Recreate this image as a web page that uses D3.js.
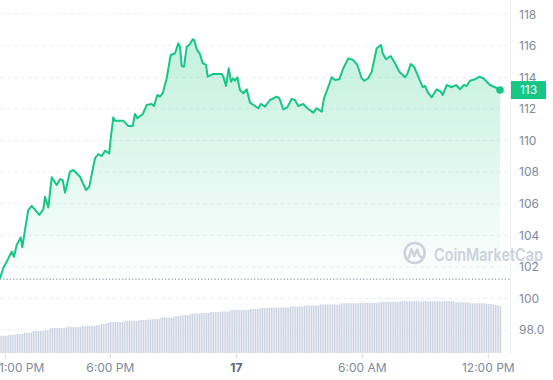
<!DOCTYPE html>
<html><head><meta charset="utf-8">
<script src="https://cdn.jsdelivr.net/npm/d3@7"></script>
<style>html,body{margin:0;padding:0;background:#fff;} svg{display:block;font-family:Inter,"Noto Sans",sans-serif;}</style>
</head><body><svg id="chart" width="553" height="380"></svg>
<script>
// ---- data ----
const priceHours = [12.748,12.905,13.067,13.305,13.414,13.543,13.733,13.810,13.938,14.095,14.257,14.619,14.810,14.890,15.048,15.210,15.448,15.605,15.733,15.843,16.081,16.238,16.557,16.843,17.000,17.271,17.429,17.590,17.748,17.952,18.019,18.143,18.224,18.619,18.857,19.067,19.176,19.286,19.543,19.733,19.971,20.081,20.238,20.367,20.495,20.686,20.876,21.081,21.238,21.319,21.400,21.510,21.638,21.795,21.924,22.000,22.114,22.271,22.400,22.557,22.638,22.905,23.305,23.381,23.510,23.638,23.748,23.857,23.938,24.048,24.176,24.333,24.495,24.652,24.890,25.048,25.162,25.367,25.605,25.924,26.048,26.238,26.429,26.638,26.795,26.952,27.190,27.381,27.667,27.829,28.067,28.176,28.381,28.543,28.700,28.905,29.095,29.333,29.571,29.762,29.971,30.095,30.286,30.448,30.686,30.890,30.971,31.129,31.352,31.557,31.762,32.033,32.143,32.305,32.462,32.667,32.876,32.986,33.143,33.305,33.543,33.733,33.829,34.019,34.257,34.462,34.652,34.843,34.971,35.129,35.367,35.571,35.762,36.081,36.319,36.557];
const prices = [101.28,101.93,102.33,102.96,102.64,103.38,103.87,103.24,104.34,105.60,105.86,105.29,105.65,106.44,105.77,107.67,107.19,107.55,107.50,106.70,108.03,108.14,107.71,106.87,107.08,108.88,109.15,109.02,109.36,109.19,110.14,111.47,111.26,111.26,110.92,110.92,111.68,111.41,111.68,112.25,112.32,112.19,112.89,112.78,113.00,113.95,115.42,115.53,116.16,115.95,114.72,114.68,115.95,116.12,116.42,116.37,115.78,115.48,114.90,114.79,114.05,114.22,114.22,114.05,113.46,114.58,113.73,113.95,113.79,114.01,113.20,113.00,113.25,112.40,112.19,112.05,112.32,112.15,112.57,112.78,112.68,111.98,112.11,112.63,112.57,112.19,112.32,112.05,111.77,112.05,111.83,112.68,113.41,114.01,113.84,113.88,114.58,115.21,115.10,114.79,113.95,113.79,113.95,114.36,115.85,116.06,115.53,115.15,115.36,114.90,114.36,114.01,114.22,114.85,114.68,114.05,113.38,113.46,113.00,112.74,113.25,113.10,112.89,113.52,113.38,113.52,113.25,113.52,113.46,113.79,113.88,114.05,113.95,113.52,113.38,113.20];
const openPrice = 101.22;
const volumes = [
17.3,17.3,17.3,17.3,17.3, 18,18,18,18, 19,19,19,19,19, 20.3,20.3,20.3,20.3,20.3,
22,22,22,22,22,22,22, 23,23,23, 25,25,25,25,25,25,25,25,25, 26,26,26,26,26,26,26,26,26,
27,27,27,27,27,27,27,27, 28,28,28,29,29,29,30,30, 31,31,31,31,31,31,31,31,31,
32.3,32.3,32.3,32.3,32.3,32.3,32.3,32.3, 33,33,33,33,33.5,33.5,33.5,33.5,34,34,34,34,
35.5,35.5,35.5,35.5,35.5,35.5,35.5,35.5, 37,37,37,37.5,37.5,37.5,38,38,38,
39.5,39.5,39.5,39.5,39.5,39.5,40,40,40,40,40, 41,41,41,41,41,41,41.5,41.5,41.5,41.5,41.5,41.5,
43,43,43,43,43,43,43,43,43,43,43, 44,44,44,44,44,44,45,45,45,45,45,45,
45.5,45.5,45.5,45.5,45.5,45.5,45.5,45.5,45.5,45.5,45.5,
46.5,46.5,46.5,46.5,46.5,46.5,46.5,46.5,47.5,47.5,47.5,47.5,47.5,47.5,47.5,47.5,47.5,
48.5,48.5,48.5,48.5,48.5,48.5,48.5,48.5,48.5,48.5,48.5,48.5,
49.7,49.7,49.7,49.7,49.7,49.7,49.7,49.7,49.7,49.7,49.7,
50.3,50.3,50.3,50.3,50.3,50.3,50.3,50.3,50.3,50.3,50.3,51,51,51,51,51,51,51,51,51,51,51,51,
51.7,51.7,51.7,51.7,51.7,51.7,51.7,51.7,51.7,51.7,51.7,51.7,51.7,51.7,51.7,51.7,51.7,51.7,51.7,51.7,51.7,51.7,51.7,51.7,51.7,51.7,51.7,51.7,51.7,51.7,51.7,
50.7,50.7,50.7,50.7,50.7,50.7,50.7,50.7,50.7, 49.7,49.7,49.7,49.7,49.7,49.7,49.7,49.7,49.7,
49,49,49,49, 48,48,48, 47,47];
const volumeStartHour = 12.75;
const volumeStepMinutes = 5;
const yTickValues = [98,100,102,104,106,108,110,112,114,116,118];
const yTickLabels = ["98.0","100","102","104","106","108","110","112","114","116","118"];
const xTickHours = [13,18,24,30,36];
const xTickLabels = ["1:00 PM","6:00 PM","17","6:00 AM","12:00 PM"];
const lastPriceLabel = "113";
const watermarkText = "CoinMarketCap";

// ---- drawing ----
const svg = d3.select("#chart");
const plotRight = 511;
const green = "#16c784";
const grey = "#808a9d";

const x = d3.scaleLinear().domain([12.7476, 37.081]).range([0, plotRight]);
const y = d3.scaleLinear().domain([98, 118]).range([330, 14.3]);
const yVol = d3.scaleLinear().domain([0, 60]).range([353, 293]);

const pts = priceHours.map((h, i) => ({h, v: prices[i]}));

const defs = svg.append("defs");
const grad = defs.append("linearGradient").attr("id", "fillGrad")
  .attr("gradientUnits", "userSpaceOnUse").attr("x1", 0).attr("x2", 0)
  .attr("y1", 30).attr("y2", 288);
grad.append("stop").attr("offset", "0%").attr("stop-color", green).attr("stop-opacity", 0.27);
grad.append("stop").attr("offset", "100%").attr("stop-color", green).attr("stop-opacity", 0);

// grid
svg.append("g").selectAll("line").data(yTickValues).join("line")
  .attr("x1", 0).attr("x2", plotRight)
  .attr("y1", d => y(d)).attr("y2", d => y(d))
  .attr("stroke", "#eceff3").attr("stroke-width", 1).attr("stroke-dasharray", "4,3");

// right border line
svg.append("line").attr("x1", plotRight - 0.3).attr("x2", plotRight - 0.3)
  .attr("y1", 0).attr("y2", 354).attr("stroke", "#eceff3").attr("stroke-width", 1);

// volume bars
const barStep = volumeStepMinutes / 60;
svg.append("g").selectAll("rect").data(volumes).join("rect")
  .attr("x", (d, i) => x(volumeStartHour + i * barStep) - 0.6)
  .attr("width", 1.2)
  .attr("y", d => yVol(d))
  .attr("height", d => yVol(0) - yVol(d))
  .attr("fill", "#cbd2e2");

// area
const area = d3.area().x(d => x(d.h)).y0(y(openPrice)).y1(d => y(d.v));
svg.append("path").datum(pts).attr("d", area).attr("fill", "url(#fillGrad)");

// watermark
const wm = svg.append("g").attr("opacity", 1);
const lg = wm.append("g").attr("transform", "translate(414.7,253)");
lg.append("circle").attr("r", 10).attr("fill", "none").attr("stroke", "#ccd1db").attr("stroke-width", 2.6);
lg.append("path").attr("d", "M-6,4.5 L-3.2,-3.5 L-0.5,3 L2.5,-3.5 L4.5,2.5 Q5.8,5 8.5,3.5")
  .attr("fill", "none").attr("stroke", "#ccd1db").attr("stroke-width", 2.4).attr("stroke-linejoin", "round").attr("stroke-linecap", "round");
wm.append("text").attr("x", 434).attr("y", 260.7).text(watermarkText)
  .attr("font-size", 17).attr("font-weight", 600).attr("fill", "#ccd1db")
  .attr("textLength", 109).attr("lengthAdjust", "spacingAndGlyphs");

// open price dotted line
svg.append("line").attr("x1", 0).attr("x2", plotRight)
  .attr("y1", y(openPrice)).attr("y2", y(openPrice))
  .attr("stroke", "#8f97a6").attr("stroke-width", 1.1).attr("stroke-dasharray", "1.2,2.1");

// price line
const line = d3.line().x(d => x(d.h)).y(d => y(d.v));
svg.append("path").datum(pts).attr("d", line)
  .attr("fill", "none").attr("stroke", green).attr("stroke-width", 2)
  .attr("stroke-linejoin", "round").attr("stroke-linecap", "round");

// end dot
const last = pts[pts.length - 1];
svg.append("circle").attr("cx", x(last.h)).attr("cy", y(last.v)).attr("r", 3.8).attr("fill", green);

// y labels
svg.append("g").selectAll("text").data(yTickValues).join("text")
  .attr("x", 519).attr("y", d => y(d)).attr("dy", "0.36em")
  .attr("font-size", 12).attr("fill", grey)
  .text((d, i) => yTickLabels[i]);

// last price label
const ly = y(last.v);
svg.append("rect").attr("x", plotRight).attr("y", ly - 9).attr("width", 35).attr("height", 18).attr("fill", green);
svg.append("text").attr("x", plotRight + 17.5).attr("y", ly).attr("dy", "0.36em")
  .attr("text-anchor", "middle").attr("font-size", 12).attr("fill", "#fff").text(lastPriceLabel);

// x ticks & labels
svg.append("g").selectAll("line").data(xTickHours).join("line")
  .attr("x1", d => x(d)).attr("x2", d => x(d)).attr("y1", 354).attr("y2", 358)
  .attr("stroke", "#d5d9e1").attr("stroke-width", 1);
const xl = svg.append("g").selectAll("text").data(xTickHours).join("text")
  .attr("x", d => x(d)).attr("y", 372).attr("text-anchor", "middle")
  .attr("font-size", 12)
  .attr("fill", (d, i) => xTickLabels[i] === "17" ? "#58667e" : grey)
  .attr("font-weight", (d, i) => xTickLabels[i] === "17" ? 700 : 400)
  .text((d, i) => xTickLabels[i]);
xl.each(function(d) {
  const w = this.getComputedTextLength();
  const cx = x(d);
  if (cx - w / 2 < -1) d3.select(this).attr("x", w / 2 - 1);
});
</script></body></html>
